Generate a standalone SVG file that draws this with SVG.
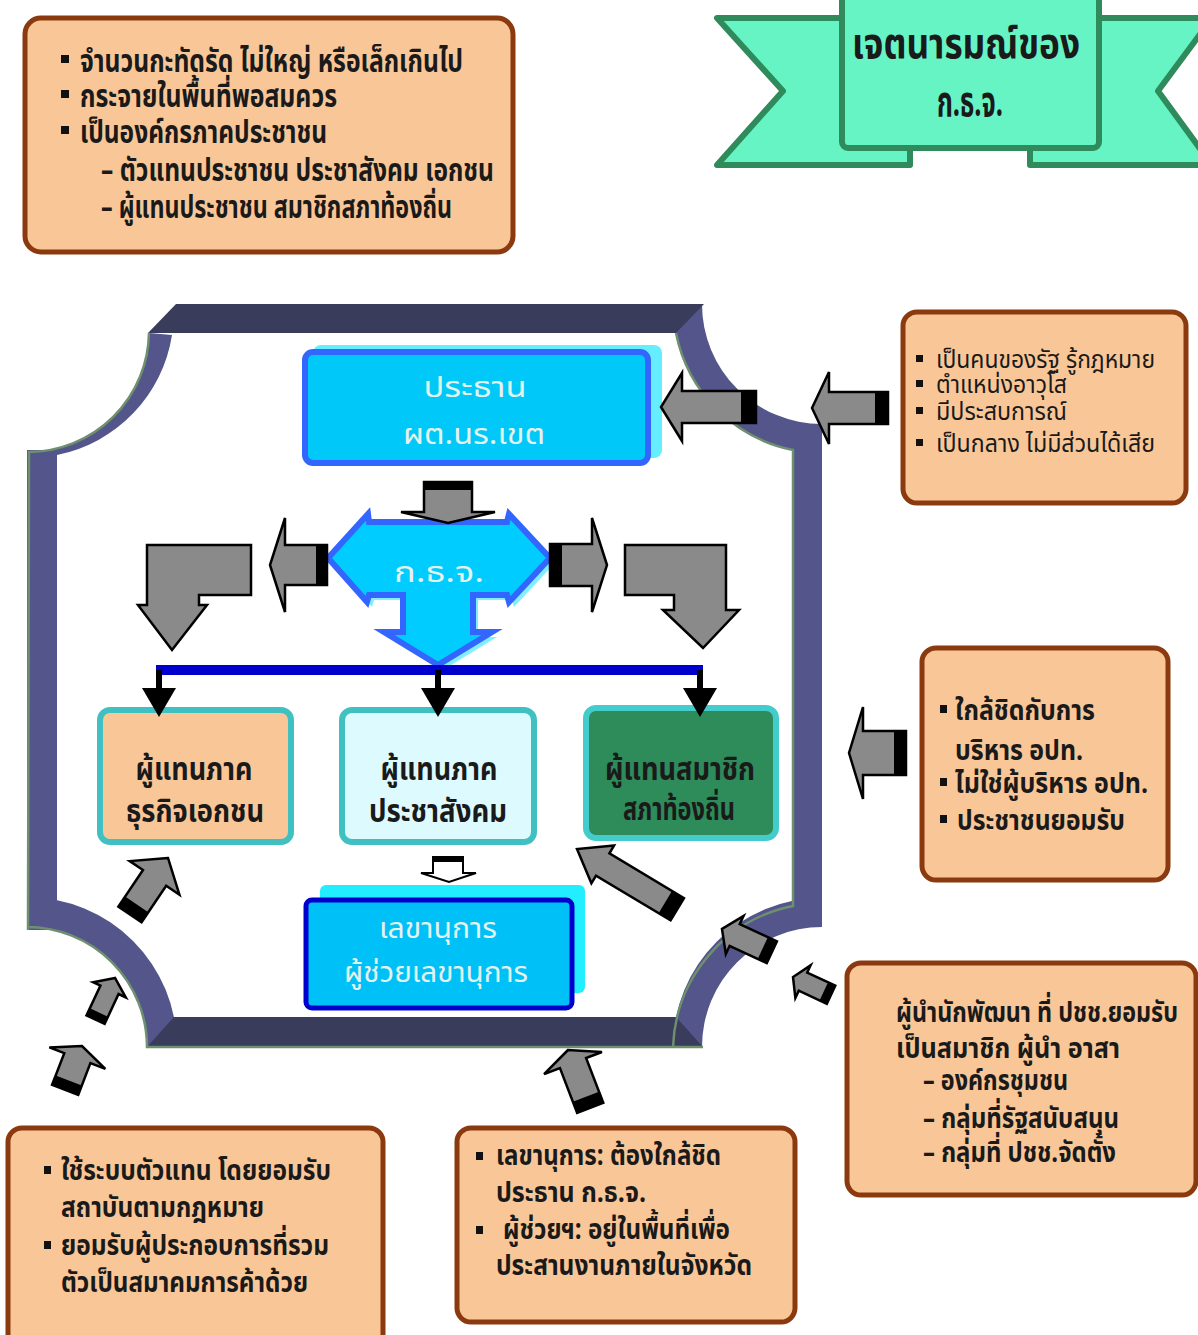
<svg xmlns="http://www.w3.org/2000/svg" width="1198" height="1335" viewBox="0 0 1198 1335">
<defs>
<style>
.note{fill:#F9C797;stroke:#8B3A0F;stroke-width:5}
.t{font-family:'Noto Sans Thai','Noto Sans','DejaVu Sans',sans-serif;fill:#1a1a1a;font-weight:bold}
.s24{font-size:24px}
.s29{font-size:29px}
.s31{font-size:31px}
.s32{font-size:32px}
.s42{font-size:42px}
.tn{font-weight:normal}
.lt{fill:#E4F2EC;font-weight:normal}
.bul{fill:#111}
.ga{fill:#8A8A8A;stroke:#000;stroke-width:2.5;stroke-linejoin:miter}
.band{fill:#000}
.pur{fill:#54568B}
.dark{fill:#3A3C5C}
.grn{fill:none;stroke:#6E906E;stroke-width:2.5}
.mid{stroke:#40C0C0;stroke-width:6}
</style>
</defs>
<rect width="1198" height="1335" fill="#fff"/>

<!-- Frame -->
<g id="frame">
  <path class="pur" d="M149,333 A121,121 0 0 1 29,452 L57,455 A145,145 0 0 0 172,335 Z"/>
  <rect class="pur" x="27" y="450" width="30" height="480"/>
  <path class="pur" d="M27,927 A120,120 0 0 1 147,1047 L177,1047 A150,150 0 0 0 27,897 Z"/>
  <path class="pur" d="M702,1047 A120,120 0 0 1 822,927 L822,898 A149,149 0 0 0 673,1047 Z"/>
  <rect class="pur" x="793" y="440" width="29" height="470"/>
  <path class="pur" d="M702,304 A120,120 0 0 0 822,424 L822,453 A149,149 0 0 1 673,304 Z"/>
  <polygon class="dark" points="176,304 704,304 676,333 148,333"/>
  <polygon class="dark" points="174,1017 676,1017 703,1047 147,1047"/>
  <path class="grn" d="M149,333 A121,121 0 0 1 29,452 L28,930 M27,927 A120,120 0 0 1 147,1047 L703,1047 M673,1047 A149,149 0 0 1 793,906 L793,450 A149,149 0 0 1 676,333"/>
</g>

<!-- Banner -->
<g id="banner">
  <polygon points="717,18 910,18 910,165 717,165 783,91" fill="#66F4C4" stroke="#2F8B5B" stroke-width="6" stroke-linejoin="round"/>
  <polygon points="1030,18 1212,18 1158,91 1212,165 1030,165" fill="#66F4C4" stroke="#2F8B5B" stroke-width="6" stroke-linejoin="round"/>
  <rect x="842" y="-10" width="257" height="158" rx="6" fill="#66F4C4" stroke="#2F8B5B" stroke-width="6"/>
  <text class="t s42" x="966" y="58" text-anchor="middle" textLength="228" lengthAdjust="spacingAndGlyphs">เจตนารมณ์ของ</text>
  <text class="t s42" x="970" y="116" text-anchor="middle" textLength="66" lengthAdjust="spacingAndGlyphs">ก.ธ.จ.</text>
</g>

<!-- Note boxes -->
<g id="note-tl">
  <rect class="note" x="25" y="18" width="488" height="234" rx="16"/>
  <rect class="bul" x="61" y="55" width="8" height="8"/>
  <rect class="bul" x="61" y="90" width="8" height="8"/>
  <rect class="bul" x="61" y="126" width="8" height="8"/>
  <text class="t s31" x="80" y="72" textLength="383" lengthAdjust="spacingAndGlyphs">จำนวนกะทัดรัด ไม่ใหญ่ หรือเล็กเกินไป</text>
  <text class="t s31" x="80" y="107" textLength="257" lengthAdjust="spacingAndGlyphs">กระจายในพื้นที่พอสมควร</text>
  <text class="t s31" x="80" y="143" textLength="247" lengthAdjust="spacingAndGlyphs">เป็นองค์กรภาคประชาชน</text>
  <text class="t s31" x="101" y="181" textLength="393" lengthAdjust="spacingAndGlyphs">– ตัวแทนประชาชน ประชาสังคม เอกชน</text>
  <text class="t s31" x="101" y="218" textLength="351" lengthAdjust="spacingAndGlyphs">– ผู้แทนประชาชน สมาชิกสภาท้องถิ่น</text>
</g>

<g id="note-a">
  <rect class="note" x="903" y="312" width="283" height="191" rx="14"/>
  <rect class="bul" x="916" y="355" width="7" height="7"/>
  <rect class="bul" x="916" y="380" width="7" height="7"/>
  <rect class="bul" x="916" y="407" width="7" height="7"/>
  <rect class="bul" x="916" y="439" width="7" height="7"/>
  <text class="t tn s24" x="936" y="368" textLength="219" lengthAdjust="spacingAndGlyphs">เป็นคนของรัฐ รู้กฎหมาย</text>
  <text class="t tn s24" x="936" y="393" textLength="131" lengthAdjust="spacingAndGlyphs">ตำแหน่งอาวุโส</text>
  <text class="t tn s24" x="936" y="420" textLength="131" lengthAdjust="spacingAndGlyphs">มีประสบการณ์</text>
  <text class="t tn s24" x="936" y="452" textLength="219" lengthAdjust="spacingAndGlyphs">เป็นกลาง ไม่มีส่วนได้เสีย</text>
</g>

<g id="note-b">
  <rect class="note" x="922" y="648" width="246" height="232" rx="14"/>
  <rect class="bul" x="940" y="705" width="7" height="8"/>
  <rect class="bul" x="940" y="778" width="7" height="8"/>
  <rect class="bul" x="940" y="815" width="7" height="8"/>
  <text class="t s29" x="955" y="720" textLength="140" lengthAdjust="spacingAndGlyphs">ใกล้ชิดกับการ</text>
  <text class="t s29" x="955" y="760" textLength="128" lengthAdjust="spacingAndGlyphs">บริหาร อปท.</text>
  <text class="t s29" x="955" y="793" textLength="193" lengthAdjust="spacingAndGlyphs">ไม่ใช่ผู้บริหาร อปท.</text>
  <text class="t s29" x="957" y="830" textLength="168" lengthAdjust="spacingAndGlyphs">ประชาชนยอมรับ</text>
</g>

<g id="note-c">
  <rect class="note" x="847" y="963" width="349" height="232" rx="14"/>
  <text class="t s29" x="896" y="1022" textLength="282" lengthAdjust="spacingAndGlyphs">ผู้นำนักพัฒนา ที่ ปชช.ยอมรับ</text>
  <text class="t s29" x="896" y="1058" textLength="224" lengthAdjust="spacingAndGlyphs">เป็นสมาชิก ผู้นำ อาสา</text>
  <text class="t s29" x="923" y="1090" textLength="145" lengthAdjust="spacingAndGlyphs">– องค์กรชุมชน</text>
  <text class="t s29" x="923" y="1128" textLength="196" lengthAdjust="spacingAndGlyphs">– กลุ่มที่รัฐสนับสนุน</text>
  <text class="t s29" x="923" y="1162" textLength="193" lengthAdjust="spacingAndGlyphs">– กลุ่มที่ ปชช.จัดตั้ง</text>
</g>

<g id="note-k">
  <rect class="note" x="8" y="1128" width="375" height="220" rx="14"/>
  <rect class="bul" x="44" y="1166" width="7" height="8"/>
  <rect class="bul" x="44" y="1241" width="7" height="8"/>
  <text class="t s29" x="61" y="1180" textLength="270" lengthAdjust="spacingAndGlyphs">ใช้ระบบตัวแทน โดยยอมรับ</text>
  <text class="t s29" x="61" y="1217" textLength="203" lengthAdjust="spacingAndGlyphs">สถาบันตามกฎหมาย</text>
  <text class="t s29" x="61" y="1255" textLength="268" lengthAdjust="spacingAndGlyphs">ยอมรับผู้ประกอบการที่รวม</text>
  <text class="t s29" x="61" y="1292" textLength="247" lengthAdjust="spacingAndGlyphs">ตัวเป็นสมาคมการค้าด้วย</text>
</g>

<g id="note-l">
  <rect class="note" x="457" y="1128" width="338" height="194" rx="14"/>
  <rect class="bul" x="476" y="1152" width="7" height="8"/>
  <rect class="bul" x="476" y="1226" width="7" height="8"/>
  <text class="t s29" x="496" y="1165" textLength="225" lengthAdjust="spacingAndGlyphs">เลขานุการ: ต้องใกล้ชิด</text>
  <text class="t s29" x="496" y="1202" textLength="150" lengthAdjust="spacingAndGlyphs">ประธาน ก.ธ.จ.</text>
  <text class="t s29" x="503" y="1239" textLength="227" lengthAdjust="spacingAndGlyphs">ผู้ช่วยฯ: อยู่ในพื้นที่เพื่อ</text>
  <text class="t s29" x="496" y="1275" textLength="256" lengthAdjust="spacingAndGlyphs">ประสานงานภายในจังหวัด</text>
</g>

<!-- Central nodes -->
<g id="node-president">
  <rect x="313" y="345" width="349" height="113" rx="8" fill="#66EEFF"/>
  <rect x="305" y="352" width="343" height="111" rx="8" fill="#00C8F8" stroke="#3366FF" stroke-width="6"/>
  <text class="t lt s29" x="475" y="397" textLength="103" lengthAdjust="spacingAndGlyphs" text-anchor="middle">ประธาน</text>
  <text class="t lt s29" x="474" y="444" textLength="142" lengthAdjust="spacingAndGlyphs" text-anchor="middle">ผต.นร.เขต</text>
</g>

<g id="node-kthj">
  <polygon points="333,563 373,519 374,527 512,527 514,519 555,563 514,607 512,600 478,600 478,637 497,637 443,670 389,637 408,637 408,600 374,600 372,607" fill="#80F0FF"/>
  <polygon points="328,558 368,514 369,522 507,522 509,514 550,558 509,602 507,595 473,595 473,632 492,632 438,665 384,632 403,632 403,595 369,595 367,602" fill="#00CCFF" stroke="#3366FF" stroke-width="6" stroke-linejoin="miter"/>
  <text class="t lt s29" x="439" y="582" textLength="90" lengthAdjust="spacingAndGlyphs" text-anchor="middle">ก.ธ.จ.</text>
</g>

<g id="node-business">
  <rect class="mid" x="100" y="710" width="191" height="132" rx="10" fill="#F9C797"/>
  <text class="t s32" x="194" y="780" text-anchor="middle" textLength="117" lengthAdjust="spacingAndGlyphs">ผู้แทนภาค</text>
  <text class="t s32" x="195" y="822" text-anchor="middle" textLength="138" lengthAdjust="spacingAndGlyphs">ธุรกิจเอกชน</text>
</g>

<g id="node-civil">
  <rect class="mid" x="342" y="710" width="192" height="132" rx="10" fill="#DDFAFF"/>
  <text class="t s32" x="439" y="780" text-anchor="middle" textLength="117" lengthAdjust="spacingAndGlyphs">ผู้แทนภาค</text>
  <text class="t s32" x="438" y="822" text-anchor="middle" textLength="138" lengthAdjust="spacingAndGlyphs">ประชาสังคม</text>
</g>

<g id="node-local">
  <rect x="586" y="708" width="190" height="130" rx="10" fill="#2E8B5A" stroke="#44CCCC" stroke-width="6"/>
  <text class="t s32" x="680" y="780" text-anchor="middle" textLength="150" lengthAdjust="spacingAndGlyphs">ผู้แทนสมาชิก</text>
  <text class="t s32" x="679" y="820" text-anchor="middle" textLength="112" lengthAdjust="spacingAndGlyphs">สภาท้องถิ่น</text>
</g>

<g id="node-secretary">
  <rect x="320" y="885" width="265" height="108" rx="6" fill="#22EEFF"/>
  <rect x="306" y="900" width="266" height="108" rx="6" fill="#00C0F8" stroke="#0000CC" stroke-width="5"/>
  <text class="t lt s29" x="438" y="938" textLength="118" lengthAdjust="spacingAndGlyphs" text-anchor="middle">เลขานุการ</text>
  <text class="t lt s29" x="436" y="982" textLength="184" lengthAdjust="spacingAndGlyphs" text-anchor="middle">ผู้ช่วยเลขานุการ</text>
</g>

<!-- Connectors -->
<g id="connectors">
  <rect x="156" y="665" width="547" height="10" fill="#0000CC"/>
  <rect x="156" y="670" width="6" height="20" fill="#000"/>
  <polygon points="142,688 176,688 159,717" fill="#000"/>
  <rect x="435" y="670" width="6" height="20" fill="#000"/>
  <polygon points="421,688 455,688 438,717" fill="#000"/>
  <rect x="697" y="670" width="6" height="20" fill="#000"/>
  <polygon points="683,688 717,688 700,717" fill="#000"/>

  <polygon points="433,857 463,857 463,873 476,873 449,882 421,873 433,873" fill="#fff" stroke="#000" stroke-width="2"/>
  <rect x="433" y="857" width="30" height="5" fill="#000"/>

  <polygon class="ga" points="147,545 251,545 251,595 199,595 199,605 207,605 172,650 138,605 147,605"/>
  <polygon class="ga" points="625,545 726,545 726,610 739,610 703,648 663,610 674,610 674,595 625,595"/>

  <g transform="translate(448,523) rotate(90)"><polygon class="ga" points="0,0 -11,-47 -11,-24 -41,-24 -41,24 -11,24 -11,47"/><rect class="band" x="-41" y="-24" width="8" height="48"/></g>
  <g transform="translate(270,565) rotate(180)"><polygon class="ga" points="0,0 -15,-47 -15,-20 -57,-20 -57,20 -15,20 -15,47"/><rect class="band" x="-57" y="-20" width="11" height="40"/></g>
  <g transform="translate(607,565)"><polygon class="ga" points="0,0 -15,-47 -15,-21 -57,-21 -57,21 -15,21 -15,47"/><rect class="band" x="-57" y="-21" width="12" height="42"/></g>
  <g transform="translate(661,407) rotate(180)"><polygon class="ga" points="0,0 -21,-34 -21,-16 -95,-16 -95,16 -21,16 -21,34"/><rect class="band" x="-95" y="-16" width="15" height="32"/></g>
  <g transform="translate(812,408) rotate(180)"><polygon class="ga" points="0,0 -17,-36 -17,-16 -76,-16 -76,16 -17,16 -17,36"/><rect class="band" x="-76" y="-16" width="13" height="32"/></g>
  <g transform="translate(849,753) rotate(180)"><polygon class="ga" points="0,0 -14,-46 -14,-22 -57,-22 -57,22 -14,22 -14,46"/><rect class="band" x="-57" y="-22" width="12" height="44"/></g>
  <g transform="translate(577,849) rotate(211)"><polygon class="ga" points="0,0 -30,-22 -30,-13 -117,-13 -117,13 -30,13 -30,22"/><rect class="band" x="-117" y="-13" width="14" height="26"/></g>
  <g transform="translate(722,929) rotate(205)"><polygon class="ga" points="0,0 -14,-21 -14,-12 -55,-12 -55,12 -14,12 -14,21"/><rect class="band" x="-55" y="-12" width="10" height="24"/></g>
  <g transform="translate(793,977) rotate(205)"><polygon class="ga" points="0,0 -11,-18 -11,-10 -42,-10 -42,10 -11,10 -11,18"/><rect class="band" x="-42" y="-10" width="8" height="20"/></g>
  <g transform="translate(168,858) rotate(-56)"><polygon class="ga" points="0,0 -24,-30 -24,-14 -68,-14 -68,14 -24,14 -24,30"/><rect class="band" x="-68" y="-14" width="12" height="28"/></g>
  <g transform="translate(115,978) rotate(-65)"><polygon class="ga" points="0,0 -13,-18 -13,-10 -46,-10 -46,10 -13,10 -13,18"/><rect class="band" x="-46" y="-10" width="8" height="20"/></g>
  <g transform="translate(82,1046) rotate(-69)"><polygon class="ga" points="0,0 -13,-30 -13,-14 -47,-14 -47,14 -13,14 -13,30"/><rect class="band" x="-47" y="-14" width="10" height="28"/></g>
  <g transform="translate(568,1050) rotate(-111)"><polygon class="ga" points="0,0 -14,-31 -14,-14 -62,-14 -62,14 -14,14 -14,31"/><rect class="band" x="-62" y="-14" width="12" height="28"/></g>
</g>
</svg>
